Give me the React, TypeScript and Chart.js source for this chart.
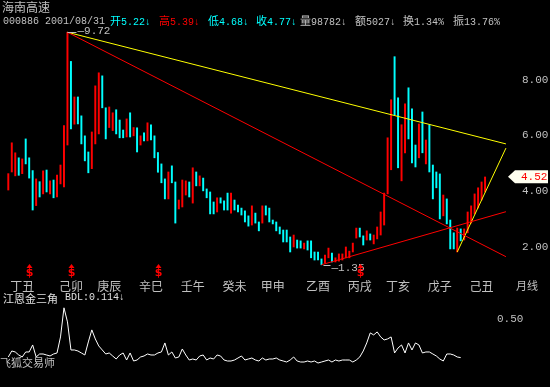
import React, { useEffect, useRef } from 'react';
import { Chart, registerables } from 'chart.js';
Chart.register(...registerables);

// Monthly bars (high / low), 1 = up (red), 0 = down (cyan)
const barHigh = [
  4.63, 5.74, 5.38, 5.20, 5.16, 5.88, 5.20, 4.74, 4.44, 4.34,
  4.73, 4.76, 4.37, 4.40, 4.58, 4.94, 6.36, 9.72, 8.67, 7.39,
  7.39, 6.71, 5.99, 5.41, 6.13, 7.79, 8.26, 8.15, 7.00, 7.03,
  6.82, 6.93, 6.56, 6.20, 6.60, 6.82, 6.29, 6.28, 5.99, 6.10,
  6.46, 6.39, 5.99, 5.39, 4.98, 4.44, 4.69, 4.91, 4.33, 3.68,
  4.40, 4.37, 4.33, 4.84, 4.69, 4.55, 4.47, 4.08, 3.97, 3.61,
  3.76, 3.76, 3.65, 3.93, 3.93, 3.68, 3.50, 3.39, 3.29, 3.11,
  3.47, 3.21, 2.89, 3.47, 3.47, 3.39, 2.96, 2.89, 2.71, 2.60,
  2.60, 2.35, 2.42, 2.24, 2.21, 2.13, 2.21, 2.21, 1.81, 1.81,
  1.56, 1.70, 1.95, 1.77, 1.60, 1.74, 1.74, 1.99, 1.84, 2.13,
  2.67, 2.67, 2.39, 2.57, 2.46, 2.42, 2.71, 3.25, 3.93, 5.92,
  7.29, 8.84, 7.36, 6.39, 7.14, 7.72, 6.96, 5.66, 6.42, 6.85,
  5.84, 6.39, 4.94, 4.69, 4.62, 3.86, 3.72, 2.96, 2.50, 2.67,
  2.64, 2.64, 3.25, 3.47, 3.90, 4.12, 4.33, 4.51,
];
const barLow = [
  4.04, 4.69, 4.55, 4.57, 4.63, 4.98, 4.47, 3.32, 3.48, 3.79,
  3.90, 3.97, 3.90, 3.76, 3.79, 4.26, 4.15, 5.66, 6.24, 6.41,
  6.42, 5.70, 5.09, 4.66, 4.81, 5.70, 6.06, 7.00, 5.88, 6.29,
  6.18, 6.06, 5.92, 5.92, 5.95, 5.95, 5.99, 5.41, 5.66, 5.81,
  5.81, 5.84, 5.20, 4.68, 4.30, 3.72, 3.72, 4.30, 2.85, 3.36,
  3.43, 3.86, 3.79, 3.57, 4.19, 4.19, 4.01, 3.76, 3.18, 3.18,
  3.25, 3.57, 3.32, 3.32, 3.21, 3.32, 3.25, 3.14, 2.89, 2.74,
  2.78, 2.85, 2.57, 2.85, 3.14, 2.89, 2.82, 2.57, 2.46, 2.17,
  2.17, 1.81, 1.99, 1.95, 1.95, 1.92, 1.88, 1.60, 1.52, 1.52,
  1.35, 1.41, 1.60, 1.45, 1.45, 1.48, 1.52, 1.60, 1.60, 1.81,
  2.31, 2.35, 2.06, 2.24, 2.24, 2.10, 2.28, 2.42, 2.78, 3.90,
  4.77, 6.75, 4.84, 4.37, 5.38, 5.88, 5.02, 4.87, 5.20, 5.38,
  4.98, 4.69, 3.72, 4.12, 3.00, 3.11, 2.82, 1.92, 1.92, 1.81,
  2.21, 2.24, 2.50, 2.85, 3.18, 3.39, 3.68, 3.97,
];
const barUp = [
  1, 1, 1, 0, 1, 0, 0, 0, 1, 0,
  1, 0, 1, 0, 1, 1, 1, 1, 0, 1,
  0, 0, 0, 0, 1, 1, 1, 0, 0, 1,
  1, 0, 0, 0, 1, 0, 1, 0, 1, 0,
  1, 0, 0, 0, 0, 0, 1, 0, 0, 1,
  1, 1, 0, 1, 0, 1, 0, 0, 0, 0,
  1, 0, 0, 0, 1, 0, 0, 0, 0, 0,
  1, 0, 0, 1, 0, 0, 0, 0, 0, 0,
  0, 0, 1, 0, 0, 1, 0, 0, 0, 0,
  0, 1, 1, 0, 1, 1, 1, 1, 1, 1,
  1, 0, 0, 1, 0, 1, 1, 1, 1, 1,
  1, 0, 0, 1, 1, 0, 0, 0, 1, 0,
  1, 0, 0, 0, 0, 1, 0, 0, 0, 1,
  0, 1, 1, 1, 1, 1, 1, 1,
];

// 江恩金三角 BDL indicator
const bdl = [
  0.12, 0.18, 0.17, 0.14, 0.12, 0.17, 0.17, 0.24, 0.12, 0.15,
  0.15, 0.14, 0.13, 0.15, 0.16, 0.32, 0.61, 0.47, 0.19, 0.19,
  0.18, 0.16, 0.14, 0.27, 0.39, 0.30, 0.23, 0.19, 0.15, 0.16,
  0.13, 0.10, 0.14, 0.16, 0.09, 0.16, 0.08, 0.09, 0.12, 0.13,
  0.15, 0.14, 0.14, 0.16, 0.17, 0.26, 0.14, 0.17, 0.11, 0.12,
  0.20, 0.14, 0.09, 0.10, 0.09, 0.13, 0.14, 0.09, 0.11, 0.10,
  0.14, 0.13, 0.09, 0.08, 0.08, 0.09, 0.11, 0.13, 0.09, 0.10,
  0.11, 0.09, 0.08, 0.11, 0.09, 0.10, 0.10, 0.11, 0.09, 0.08,
  0.07, 0.09, 0.12, 0.08, 0.07, 0.07, 0.08, 0.07, 0.08, 0.06,
  0.07, 0.08, 0.09, 0.07, 0.09, 0.08, 0.09, 0.09, 0.09, 0.07,
  0.09, 0.12, 0.18, 0.26, 0.36, 0.34, 0.37, 0.32, 0.29, 0.30,
  0.32, 0.16, 0.21, 0.24, 0.16, 0.26, 0.19, 0.26, 0.24, 0.16,
  0.17, 0.17, 0.15, 0.13, 0.10, 0.08, 0.15, 0.15, 0.14, 0.12,
  0.114,
];

const yearNames = ['丁丑', '己卯', '庚辰', '辛巳', '壬午', '癸未', '甲申', '乙酉', '丙戌', '丁亥', '戊子', '己丑'];
const yearIdx = [4, 18, 29, 41, 53, 65, 76, 89, 101, 112, 124, 136];
const priceTicks = [2, 4, 6, 8];
const bdlTicks = [0.5];
const exRightIdx = [6, 18, 43, 101];
const lastPrice = 4.52;
const highIdx = 17;
const highPrice = 9.72;
const lowIdx = 90;
const lowPrice = 1.35;

// trend lines: [startIdx, startPrice, endIdx, endPrice]
const yellowTop = [17, 9.72, 143, 5.7];
const yellowRise = [129, 1.81, 143, 5.55];
const redFall = [17, 9.72, 143, 1.64];
const redRise = [90, 1.35, 143, 3.26];

const RED = '#ff0000';
const CYAN = '#00ffff';
const YELLOW = '#ffff00';
const GREY = '#c0c0c0';
const MONO = "'Liberation Mono', 'Noto Sans CJK SC', monospace";
const CJK = "'Noto Sans CJK SC', sans-serif";

function lineDs(t: number[], color: string) {
  return {
    type: 'line',
    data: [{ x: t[0], y: t[1] }, { x: t[2], y: t[3] }],
    borderColor: color,
    borderWidth: 1,
    pointRadius: 0,
    order: 0,
  };
}

const markPlugin = {
  id: 'marks',
  afterDatasetsDraw(chart: any) {
    const { ctx, scales } = chart;
    const x = scales.x, y = scales.y;
    ctx.save();
    ctx.font = "11px 'Liberation Mono'";
    ctx.textBaseline = 'middle';
    ctx.textAlign = 'left';
    // high label
    const hx = x.getPixelForValue(highIdx), hy = Math.round(y.getPixelForValue(highPrice)) + 0.5;
    ctx.strokeStyle = GREY; ctx.lineWidth = 1;
    ctx.beginPath(); ctx.moveTo(hx, hy); ctx.lineTo(hx + 9, hy); ctx.stroke();
    ctx.fillStyle = GREY;
    ctx.fillText('—' + highPrice.toFixed(2), hx + 10, hy - 1);
    // low label
    const lx = x.getPixelForValue(lowIdx), ly = Math.round(y.getPixelForValue(lowPrice)) + 0.5;
    ctx.beginPath(); ctx.moveTo(lx + 2, ly); ctx.lineTo(lx + 9, ly); ctx.stroke();
    ctx.fillText('—' + lowPrice.toFixed(2), lx + 10, ly + 3);
    // ex-rights markers
    ctx.fillStyle = RED;
    ctx.textAlign = 'center';
    ctx.font = "bold 11px 'DejaVu Sans'";
    exRightIdx.forEach((i) => {
      const px = Math.round(x.getPixelForValue(i)) + 0.5;
      ctx.beginPath();
      ctx.moveTo(px, 264); ctx.lineTo(px - 3, 268); ctx.lineTo(px + 3, 268); ctx.closePath(); ctx.fill();
      ctx.fillText('$', px, 273.5);
    });
    // last price box
    const py = y.getPixelForValue(lastPrice);
    ctx.fillStyle = '#fffff0';
    ctx.beginPath();
    ctx.moveTo(508, py); ctx.lineTo(515, py - 6.5); ctx.lineTo(548, py - 6.5);
    ctx.lineTo(548, py + 6.5); ctx.lineTo(515, py + 6.5); ctx.closePath(); ctx.fill();
    ctx.fillStyle = RED;
    ctx.textAlign = 'left';
    ctx.font = "11px 'Liberation Mono'";
    ctx.fillText(lastPrice.toFixed(2), 521, py + 0.5);
    ctx.restore();
  },
};

const SPACING = 3.48;
const X0 = 8.3;

function Txt({ x, y, color, size, family, children }: any) {
  return (
    <div
      style={{
        position: 'absolute', left: x, top: y, color, fontSize: size, fontFamily: family,
        whiteSpace: 'pre', lineHeight: '12px',
      }}
    >
      {children}
    </div>
  );
}

export default function App() {
  const mainRef = useRef<HTMLCanvasElement>(null);
  const indRef = useRef<HTMLCanvasElement>(null);

  useEffect(() => {
    const mainCfg: any = {
      type: 'bar',
      data: {
        datasets: [
          {
            type: 'bar',
            data: barHigh.map((h, i) => ({ x: i, y: [barLow[i], h] })),
            backgroundColor: barUp.map((u) => (u ? RED : CYAN)),
            barThickness: 1.3,
            borderWidth: 0,
            order: 1,
          },
          lineDs(redFall, RED),
          lineDs(redRise, RED),
          lineDs(yellowTop, YELLOW),
          lineDs(yellowRise, YELLOW),
        ],
      },
      options: {
        responsive: false,
        animation: false,
        devicePixelRatio: 1,
        layout: { padding: { top: 28, left: 0, right: 0, bottom: 0 } },
        plugins: { legend: { display: false }, tooltip: { enabled: false } },
        scales: {
          x: {
            type: 'linear',
            offset: false,
            min: -X0 / SPACING,
            max: (507 - X0) / SPACING,
            grid: { display: false, drawTicks: false, offset: false },
            border: { display: false },
            afterBuildTicks: (s: any) => { s.ticks = yearIdx.map((v) => ({ value: v })); },
            afterFit: (s: any) => { s.height = 30; s.paddingLeft = 0; s.paddingRight = 0; },
            ticks: {
              autoSkip: false, maxRotation: 0, minRotation: 0, padding: 9, color: GREY,
              font: { family: 'Noto Sans CJK SC', size: 12 },
              callback: (_v: any, i: number) => yearNames[i],
            },
          },
          y: {
            position: 'right',
            min: 1.161,
            max: 9.873,
            grid: { display: false, drawTicks: false },
            border: { display: false },
            afterBuildTicks: (s: any) => { s.ticks = priceTicks.map((v) => ({ value: v })); },
            afterFit: (s: any) => { s.width = 43; s.paddingTop = 0; s.paddingBottom = 0; },
            ticks: {
              padding: 15, color: GREY,
              font: { family: 'Liberation Mono', size: 11 },
              callback: (v: any) => Number(v).toFixed(2),
            },
          },
        },
      },
      plugins: [markPlugin],
    };

    const indCfg: any = {
      type: 'line',
      data: {
        datasets: [
          {
            data: bdl.map((v, i) => ({ x: i, y: v })),
            borderColor: '#ffffff',
            borderWidth: 1,
            pointRadius: 0,
            tension: 0,
          },
        ],
      },
      options: {
        responsive: false,
        animation: false,
        devicePixelRatio: 1,
        layout: { padding: 0 },
        plugins: { legend: { display: false }, tooltip: { enabled: false } },
        scales: {
          x: { type: 'linear', display: false, offset: false, min: -X0 / SPACING, max: (490 - X0) / SPACING },
          y: {
            position: 'right',
            min: -0.179,
            max: 0.688,
            grid: { display: false, drawTicks: false },
            border: { display: false },
            afterBuildTicks: (s: any) => { s.ticks = bdlTicks.map((v) => ({ value: v })); },
            afterFit: (s: any) => { s.width = 60; s.paddingTop = 0; s.paddingBottom = 0; },
            ticks: {
              padding: 7, color: GREY,
              font: { family: 'Liberation Mono', size: 11 },
              callback: (v: any) => Number(v).toFixed(2),
            },
          },
        },
      },
    };

    const c1 = new Chart(mainRef.current as HTMLCanvasElement, mainCfg);
    const c2 = new Chart(indRef.current as HTMLCanvasElement, indCfg);
    return () => { c1.destroy(); c2.destroy(); };
  }, []);

  return (
    <div style={{ position: 'fixed', left: 0, top: 0, width: 550, height: 387, background: '#000', overflow: 'hidden' }}>
      <canvas ref={mainRef} width={550} height={300} style={{ position: 'absolute', left: 0, top: 0 }} />
      <canvas ref={indRef} width={550} height={87} style={{ position: 'absolute', left: 0, top: 300 }} />
      <Txt x={2} y={1} color={GREY} size={12} family={CJK}>海南高速</Txt>
      <Txt x={3} y={16} color={GREY} size={10} family={MONO}>000886 2001/08/31</Txt>
      <Txt x={110} y={16} color={CYAN} size={10} family={MONO}><span style={{ fontSize: 11 }}>开</span>5.22↓</Txt>
      <Txt x={159} y={16} color={RED} size={10} family={MONO}><span style={{ fontSize: 11 }}>高</span>5.39↓</Txt>
      <Txt x={208} y={16} color={CYAN} size={10} family={MONO}><span style={{ fontSize: 11 }}>低</span>4.68↓</Txt>
      <Txt x={256} y={16} color={CYAN} size={10} family={MONO}><span style={{ fontSize: 11 }}>收</span>4.77↓</Txt>
      <Txt x={300} y={16} color={GREY} size={10} family={MONO}><span style={{ fontSize: 11 }}>量</span>98782↓</Txt>
      <Txt x={355} y={16} color={GREY} size={10} family={MONO}><span style={{ fontSize: 11 }}>额</span>5027↓</Txt>
      <Txt x={403} y={16} color={GREY} size={10} family={MONO}><span style={{ fontSize: 11 }}>换</span>1.34%</Txt>
      <Txt x={453} y={16} color={GREY} size={10} family={MONO}><span style={{ fontSize: 11 }}>振</span>13.76%</Txt>
      <Txt x={516} y={279} color={GREY} size={11} family={CJK}>月线</Txt>
      <Txt x={3} y={292} color={'#e0e0e0'} size={11} family={CJK}>江恩金三角</Txt>
      <Txt x={65} y={292} color={'#e0e0e0'} size={10} family={MONO}>BDL:0.114↓</Txt>
      <Txt x={0} y={356} color={GREY} size={11} family={CJK}>飞狐交易师</Txt>
    </div>
  );
}
